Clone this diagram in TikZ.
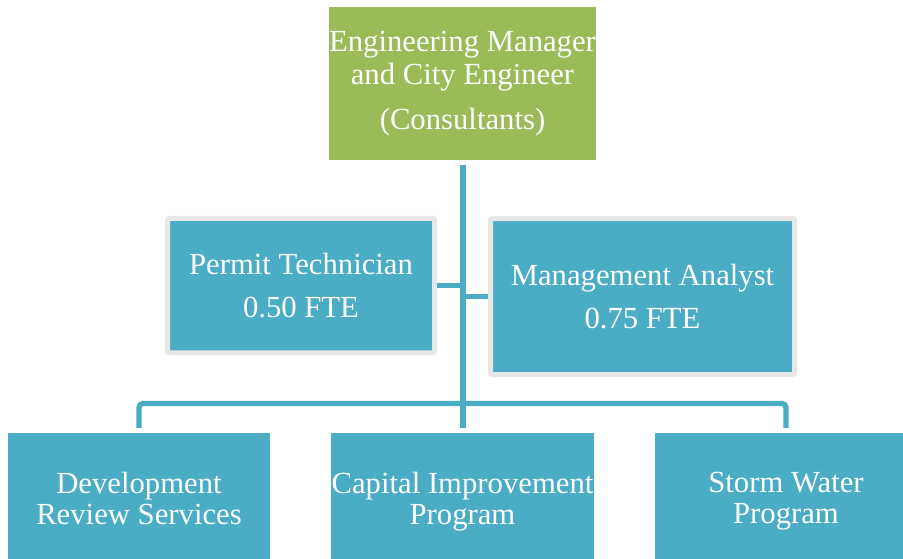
\documentclass[tikz,border=0pt]{standalone}
\usepackage{fontspec}
\setmainfont{Liberation Serif}
\definecolor{cblue}{HTML}{4BACC6}
\definecolor{cgreen}{HTML}{9BBB59}
\definecolor{cgray}{HTML}{E7E7E7}
\begin{document}
\begin{tikzpicture}[x=1pt,y=-1pt,
  box/.style={fill=cblue,text=white,inner sep=0pt,align=center,
    font=\fontsize{30.7}{31}\selectfont},
  framed/.style={box,draw=cgray,line width=5pt,rounded corners=2pt},
  conn/.style={draw=cblue,line width=5.3pt},
]
\useasboundingbox (0,0) rectangle (903,558);
\clip (0,0) rectangle (903,558);
\node[box,fill=cgreen,minimum width=265pt,minimum height=153pt,
  font=\fontsize{30.7}{32.5}\selectfont] (top) at (462.5,83.5)
  {Engineering Manager\\and City Engineer\\[12.5pt](Consultants)};
\node[framed,minimum width=267pt,minimum height=134.5pt] (pt) at (301,285.5)
  {Permit Technician\\[12pt]0.50 FTE};
\node[framed,minimum width=304pt,minimum height=156pt] (ma) at (642.5,296.5)
  {Management Analyst\\[12pt]0.75 FTE};
\node[box,minimum width=262pt,minimum height=137pt] (dev) at (139,501.5)
  {Development\\Review Services\vphantom{g}};
\node[box,minimum width=263pt,minimum height=137pt] (cap) at (462.5,501.5)
  {Capital Improvement\\Program};
\node[box,minimum width=262pt,minimum height=137pt] (sw) at (786,501.5)
  {Storm Water\\Program};
\coordinate (bus) at (463,403.5);
\draw[conn,shorten <=5pt,shorten >=5pt] (top.south -| bus) -- (cap.north -| bus);
\draw[conn] (pt.east) -- (pt.east -| bus);
\draw[conn] (ma.west) -- (ma.west -| bus);
\draw[conn,rounded corners=4pt,shorten <=5pt,shorten >=5pt] (dev.north) |- (bus) -| (sw.north);
\end{tikzpicture}
\end{document}
